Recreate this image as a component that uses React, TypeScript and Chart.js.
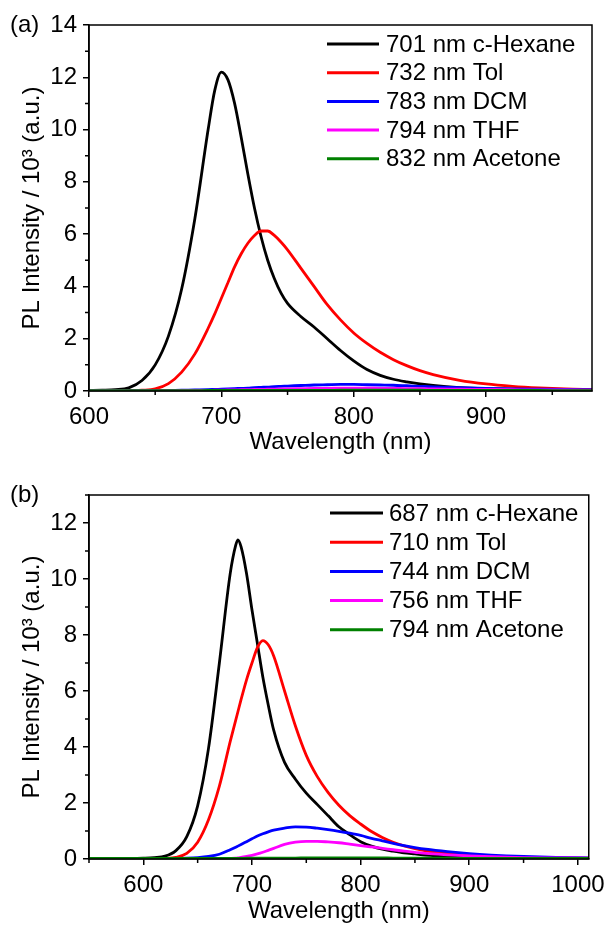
import React, { useEffect, useRef } from 'react';
import { Chart, registerables } from 'chart.js';
Chart.register(...registerables);

const FONT = '"Liberation Sans", Arial, sans-serif';
const FS = 24;

// ---------- Panel (a) ----------
const wavelengthsA = [600,610,620,630,640,650,660,670,680,690,695,700,705,710,715,720,725,730,735,740,745,750,760,770,780,790,800,810,820,830,840,850,860,880,900,920,940,960,980];
const hexaneA = [0.02,0.03,0.05,0.12,0.4,1.0,2.1,3.9,6.6,10.0, 11.5,12.2,11.9,11.0,9.7,8.3,7.0,5.9,5.0,4.3,3.75,3.35, 2.85,2.45,2.0,1.55,1.15,0.82,0.6,0.45,0.35,0.27,0.21, 0.13,0.09,0.07,0.05,0.04,0.03];
const tolA = [0,0,0.01,0.01,0.03,0.08,0.28,0.72,1.42,2.4, 2.95,3.55,4.15,4.75,5.25,5.65,5.95,6.12,6.12,5.95,5.7,5.4, 4.7,4.0,3.3,2.72,2.22,1.82,1.48,1.2,0.97,0.78,0.63, 0.41,0.27,0.18,0.12,0.08,0.06];
const dcmA = [0.01,0.01,0.01,0.01,0.01,0.01,0.02,0.03,0.04,0.05, 0.06,0.07,0.08,0.09,0.1,0.11,0.13,0.14,0.15,0.17,0.18,0.19, 0.21,0.23,0.24,0.25,0.25,0.24,0.23,0.22,0.2,0.18,0.16, 0.13,0.1,0.08,0.07,0.06,0.05];
const thfA = [0.01,0.01,0.01,0.01,0.01,0.01,0.01,0.02,0.02,0.02, 0.03,0.03,0.04,0.04,0.05,0.05,0.06,0.06,0.07,0.07,0.08,0.08, 0.09,0.1,0.1,0.11,0.11,0.11,0.1,0.1,0.09,0.09,0.08, 0.07,0.06,0.05,0.04,0.04,0.03];
const acetoneA = [0.01,0.01,0.01,0.01,0.01,0.01,0.01,0.01,0.01,0.02, 0.02,0.02,0.02,0.02,0.02,0.02,0.02,0.02,0.02,0.02,0.02,0.02, 0.02,0.02,0.02,0.03,0.03,0.03,0.03,0.03,0.03,0.03,0.02, 0.02,0.02,0.02,0.02,0.01,0.01];
const legendA = ['701 nm c-Hexane', '732 nm Tol', '783 nm DCM', '794 nm THF', '832 nm Acetone'];
const xTicksA = [600, 700, 800, 900];
const xMinorA = [650, 750, 850, 950];
const yTicksA = [0, 2, 4, 6, 8, 10, 12, 14];
const yMinorA = [1, 3, 5, 7, 9, 11, 13];

// ---------- Panel (b) ----------
const wavelengthsB = [550,570,590,600,610,620,630,640,650,660,670,680,685,687,690,695,700,705,710,715,720,730,740,750,760,770,780,790,800,810,820,830,840,850,860,880,900,920,950,980,1010];
const hexaneB = [0.02,0.02,0.02, 0.03,0.05,0.1,0.3,0.8,1.9,3.95,7.0,10.2, 11.2,11.4,11.15,10.2,8.9,7.7,6.5,5.5,4.6, 3.45,2.85,2.35,1.95,1.55,1.15,0.87,0.62,0.46,0.35,0.28,0.22,0.18,0.14, 0.09,0.06,0.05,0.03,0.03,0.02];
const tolB = [0.01,0.01,0.01, 0.01,0.01,0.02,0.06,0.2,0.6,1.4,2.6,4.2, 4.95,5.25,5.7,6.4,7.0,7.55,7.8,7.65,7.25, 6.0,4.75,3.7,2.95,2.38,1.92,1.55,1.25,0.98,0.77,0.6,0.47,0.37,0.29, 0.19,0.13,0.09,0.06,0.04,0.03];
const dcmB = [0.01,0.01,0.01, 0.01,0.01,0.01,0.02,0.03,0.05,0.09,0.17,0.33, 0.42,0.46,0.52,0.62,0.72,0.82,0.9,0.97,1.03, 1.1,1.15,1.14,1.1,1.05,0.99,0.92,0.84,0.74,0.65,0.56,0.48,0.41,0.35, 0.26,0.19,0.14,0.09,0.06,0.04];
const thfB = [0.01,0.01,0.01, 0.01,0.01,0.01,0.01,0.01,0.01,0.01,0.01,0.02, 0.03,0.04,0.06,0.09,0.13,0.18,0.24,0.31,0.38, 0.52,0.6,0.63,0.63,0.61,0.58,0.53,0.48,0.43,0.38,0.33,0.28,0.24,0.2, 0.15,0.11,0.08,0.05,0.04,0.03];
const acetoneB = [0.02,0.02,0.02, 0.02,0.02,0.02,0.02,0.02,0.02,0.02,0.02,0.02, 0.02,0.02,0.02,0.03,0.03,0.03,0.03,0.03,0.03, 0.03,0.03,0.04,0.04,0.04,0.04,0.04,0.04,0.04,0.04,0.03,0.03,0.03,0.03, 0.03,0.02,0.02,0.02,0.02,0.02];
const legendB = ['687 nm c-Hexane', '710 nm Tol', '744 nm DCM', '756 nm THF', '794 nm Acetone'];
const xTicksB = [600, 700, 800, 900, 1000];
const xMinorB = [550, 650, 750, 850, 950];
const yTicksB = [0, 2, 4, 6, 8, 10, 12];
const yMinorB = [1, 3, 5, 7, 9, 11, 13];

const seriesColors = ['#000000', '#ff0000', '#0000ff', '#ff00ff', '#008000'];
const xTitle = 'Wavelength (nm)';
const yTitle = 'PL Intensity / 10\u00b3 (a.u.)';

type PanelCfg = {
  tag: string;
  xs: number[];
  series: number[][];
  names: string[];
  xMin: number; xMax: number; yMax: number;
  xTicks: number[]; xMinor: number[]; yTicks: number[]; yMinor: number[];
  padTop: number; padBottom: number; xAxisH: number;
  legend: { x1: number; x2: number; tx: number; y0: number; dy: number };
  tagY: number;
};

const panels: PanelCfg[] = [
  {
    tag: '(a)', xs: wavelengthsA, series: [hexaneA, tolA, dcmA, thfA, acetoneA], names: legendA,
    xMin: 600, xMax: 980, yMax: 14, xTicks: xTicksA, xMinor: xMinorA, yTicks: yTicksA, yMinor: yMinorA,
    padTop: 25, padBottom: 6, xAxisH: 66,
    legend: { x1: 327, x2: 379, tx: 386, y0: 44, dy: 28.7 }, tagY: 25,
  },
  {
    tag: '(b)', xs: wavelengthsB, series: [hexaneB, tolB, dcmB, thfB, acetoneB], names: legendB,
    xMin: 550, xMax: 1010, yMax: 13, xTicks: xTicksB, xMinor: xMinorB, yTicks: yTicksB, yMinor: yMinorB,
    padTop: 32, padBottom: 0, xAxisH: 67,
    legend: { x1: 330, x2: 383, tx: 389, y0: 50, dy: 29.2 }, tagY: 32,
  },
];

const W = 611;
const H = 463;

function Panel({ cfg }: { cfg: PanelCfg }) {
  const ref = useRef<HTMLCanvasElement | null>(null);
  useEffect(() => {
    if (!ref.current) return;
    const decor = {
      id: 'decor',
      afterDraw(chart: any) {
        const { ctx, chartArea: a, scales } = chart;
        ctx.save();
        ctx.strokeStyle = '#000';
        ctx.lineWidth = 1.5;
        ctx.strokeRect(a.left, a.top, a.right - a.left, a.bottom - a.top);
        ctx.beginPath();
        cfg.xMinor.forEach((v) => {
          const px = scales.x.getPixelForValue(v);
          ctx.moveTo(px, a.bottom);
          ctx.lineTo(px, a.bottom + 4);
        });
        cfg.yMinor.forEach((v) => {
          const py = scales.y.getPixelForValue(v);
          ctx.moveTo(a.left, py);
          ctx.lineTo(a.left - 4, py);
        });
        ctx.stroke();
        // legend
        ctx.font = `${FS}px ${FONT}`;
        ctx.textBaseline = 'middle';
        ctx.textAlign = 'left';
        chart.data.datasets.forEach((ds: any, i: number) => {
          const y = cfg.legend.y0 + i * cfg.legend.dy;
          ctx.strokeStyle = ds.borderColor;
          ctx.lineWidth = 3;
          ctx.beginPath();
          ctx.moveTo(cfg.legend.x1, y);
          ctx.lineTo(cfg.legend.x2, y);
          ctx.stroke();
          ctx.fillStyle = '#000';
          ctx.fillText(ds.label, cfg.legend.tx, y + 1);
        });
        // panel tag
        ctx.fillStyle = '#000';
        ctx.fillText(cfg.tag, 10, cfg.tagY);
        ctx.restore();
      },
    };
    const font = { family: FONT, size: FS };
    const chart = new Chart(ref.current, {
      type: 'line',
      data: {
        datasets: cfg.series.map((vals, i) => ({
          label: cfg.names[i],
          data: cfg.xs.map((x, j) => ({ x, y: vals[j] })),
          borderColor: seriesColors[i],
          backgroundColor: seriesColors[i],
          borderWidth: 2.8,
          pointRadius: 0,
          tension: 0.4,
          cubicInterpolationMode: 'monotone',
          fill: false,
          order: cfg.series.length - 1 - i,
        })),
      },
      options: {
        animation: false,
        responsive: false,
        devicePixelRatio: 1,
        layout: { padding: { left: 0, right: 19, top: cfg.padTop, bottom: cfg.padBottom } },
        plugins: { legend: { display: false }, tooltip: { enabled: false } },
        scales: {
          x: {
            type: 'linear',
            min: cfg.xMin,
            max: cfg.xMax,
            afterBuildTicks: (s: any) => { s.ticks = cfg.xTicks.map((v) => ({ value: v })); },
            afterFit: (s: any) => { s.height = cfg.xAxisH; },
            grid: { display: true, drawOnChartArea: false, drawTicks: true, tickLength: 6, color: '#000', lineWidth: 1.5 },
            border: { display: true, color: '#000', width: 1.5 },
            ticks: { font, color: '#000', padding: 6, maxRotation: 0, autoSkip: false, callback: (v: any) => String(v) },
            title: { display: true, text: xTitle, font, color: '#000', padding: { top: 0, bottom: 0 } },
          },
          y: {
            type: 'linear',
            min: 0,
            max: cfg.yMax,
            afterBuildTicks: (s: any) => { s.ticks = cfg.yTicks.map((v) => ({ value: v })); },
            afterFit: (s: any) => { s.width = 89; },
            grid: { display: true, drawOnChartArea: false, drawTicks: true, tickLength: 6, color: '#000', lineWidth: 1.5 },
            border: { display: true, color: '#000', width: 1.5 },
            ticks: { font, color: '#000', padding: 6, callback: (v: any) => String(v) },
            title: { display: true, text: yTitle, font, color: '#000', padding: { top: 18, bottom: 0 } },
          },
        },
      },
      plugins: [decor],
    } as any);
    return () => chart.destroy();
  }, [cfg]);
  return <canvas ref={ref} width={W} height={H} style={{ display: 'block', width: W, height: H }} />;
}

export default function App() {
  return (
    <div style={{ position: 'absolute', left: 0, top: 0, width: W, background: '#fff' }}>
      {panels.map((p) => (
        <Panel key={p.tag} cfg={p} />
      ))}
    </div>
  );
}
